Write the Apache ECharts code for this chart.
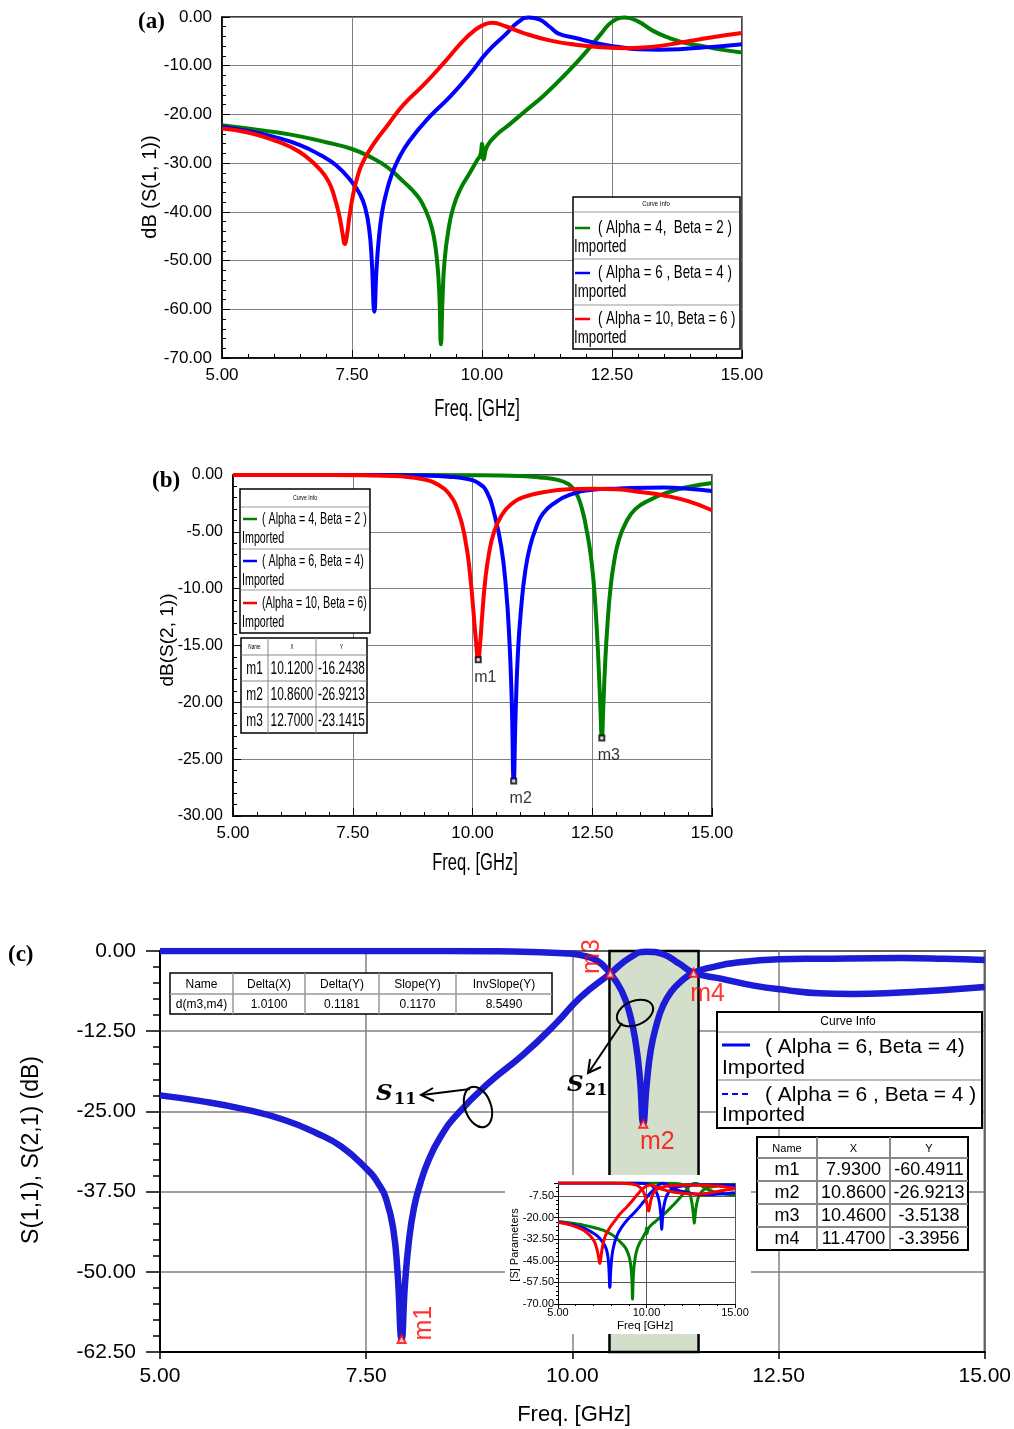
<!DOCTYPE html>
<html><head><meta charset="utf-8">
<script src="https://cdn.jsdelivr.net/npm/echarts@6/dist/echarts.min.js"></script>
<style>html,body{margin:0;padding:0;background:#fff}#c{width:1014px;height:1429px}</style>
</head><body><div id="c"></div>
<script>
// ---------- DATA ----------
// S11 (dB) curves
const s11GreenF = [5.0,5.5,6.0,6.5,7.0,7.5,7.9,8.2,8.5,8.7,8.85,9.0,9.08,9.14,9.18,9.21,9.24,9.28,9.35,9.45,9.6,9.75,9.9,9.97,10.0,10.03,10.1,10.3,10.5,10.8,11.2,11.6,12.0,12.3,12.5,12.75,13.0,13.3,13.6,13.9,14.2,14.6,15.0];
const s11GreenV = [-22.2,-22.9,-23.6,-24.5,-25.7,-27.1,-29.0,-31.0,-33.9,-36.0,-38.2,-42.0,-45.5,-50.5,-57,-67.2,-58,-50,-44,-39,-35,-32.3,-29.5,-28.3,-26.0,-29.2,-26.5,-24.0,-22.3,-19.6,-16.0,-11.8,-7.2,-3.3,-1.0,-0.1,-0.9,-2.9,-4.3,-5.3,-5.9,-6.7,-7.3];
const s11BlueF = [5.0,5.5,6.0,6.5,6.9,7.2,7.5,7.65,7.75,7.83,7.88,7.93,7.97,8.02,8.08,8.15,8.25,8.4,8.6,9.0,9.4,9.8,10.1,10.46,10.7,10.9,11.1,11.3,11.47,11.8,12.2,12.6,13.0,13.4,13.8,14.2,14.6,15.0];
const s11BlueV = [-22.5,-23.4,-24.6,-26.3,-28.4,-30.5,-33.9,-36.3,-39,-43.5,-50,-60.49,-52,-45,-40,-36.5,-32.8,-29,-25.5,-20.4,-16.2,-11.3,-7.2,-3.51,-1.0,-0.1,-0.5,-2.0,-3.40,-4.3,-5.4,-6.1,-6.6,-6.7,-6.6,-6.3,-6.0,-5.6];
const s11RedF = [5.0,5.5,6.0,6.3,6.6,6.9,7.05,7.15,7.25,7.32,7.36,7.4,7.45,7.52,7.6,7.7,7.9,8.2,8.5,8.9,9.3,9.6,9.85,10.05,10.2,10.45,10.8,11.3,11.8,12.3,12.8,13.3,13.8,14.4,15.0];
const s11RedV = [-22.9,-23.7,-25.3,-26.6,-28.5,-31.5,-33.8,-36.5,-40.5,-44.5,-46.6,-45,-41,-36.5,-33,-30,-26.3,-22,-17.9,-13.7,-9.0,-5.3,-2.8,-1.5,-1.2,-1.9,-3.3,-4.8,-5.7,-6.2,-6.4,-6.1,-5.3,-4.2,-3.3];
// S21 (dB) curves
const s21GreenF = [5.0,8.0,10.0,11.0,11.5,11.8,12.0,12.1,12.2,12.3,12.38,12.45,12.52,12.58,12.63,12.67,12.7,12.73,12.77,12.82,12.88,12.95,13.05,13.2,13.4,13.7,14.1,14.5,15.0];
const s21GreenV = [0,0,-0.02,-0.08,-0.25,-0.45,-0.8,-1.2,-1.9,-3.2,-4.8,-6.5,-9,-12.5,-16.5,-20.5,-23.14,-20.5,-16.5,-13,-10,-7.8,-5.8,-4.2,-3.0,-2.2,-1.5,-1.05,-0.7];
const s21BlueF = [5.0,8.0,9.0,9.5,9.9,10.1,10.3,10.46,10.6,10.7,10.77,10.82,10.86,10.9,10.95,11.02,11.1,11.2,11.33,11.47,11.7,12.0,12.5,13.0,14.0,14.5,15.0];
const s21BlueV = [0,0,-0.05,-0.15,-0.35,-0.65,-1.5,-3.51,-6.3,-10,-14.5,-20,-26.92,-21,-15.5,-11.5,-8.5,-6.3,-4.6,-3.40,-2.5,-1.8,-1.3,-1.2,-1.1,-1.2,-1.4];
const s21RedF = [5.0,7.0,8.0,8.5,9.0,9.3,9.5,9.7,9.85,9.95,10.02,10.07,10.12,10.16,10.2,10.26,10.34,10.45,10.6,10.8,11.1,11.5,12.0,12.5,13.0,13.5,14.0,14.5,15.0];
const s21RedV = [0,0,-0.05,-0.12,-0.4,-0.9,-1.6,-3.2,-5.7,-8.8,-12,-14.5,-16.24,-14.8,-12.5,-9.5,-7,-5,-3.6,-2.6,-1.9,-1.5,-1.25,-1.2,-1.25,-1.5,-1.8,-2.3,-3.1];
// markers
const markBNames = ['m1','m2','m3'];
const markBX = [10.12,10.86,12.70];
const markBY = [-16.2438,-26.9213,-23.1415];
const markCNames = ['m1','m2','m3','m4'];
const markCX = [7.93,10.86,10.46,11.47];
const markCY = [-60.4911,-26.9213,-3.5138,-3.3956];
const bandX = [10.45,11.53];
const deltaHeader = ['Name','Delta(X)','Delta(Y)','Slope(Y)','InvSlope(Y)'];
const deltaRow = ['d(m3,m4)','1.0100','0.1181','0.1170','8.5490'];
const legendA = ['( Alpha = 4,  Beta = 2 )','( Alpha = 6 , Beta = 4 )','( Alpha = 10, Beta = 6 )'];
const legendB = ['( Alpha = 4, Beta = 2 )','( Alpha = 6, Beta = 4)','(Alpha = 10, Beta = 6)'];
const legendC = ['( Alpha = 6, Beta = 4)','( Alpha = 6 , Beta = 4 )'];

// ---------- STYLE ----------
const ARIAL = "'Liberation Sans',Arial,sans-serif";
const SERIF = "'Liberation Serif','Times New Roman',serif";
const GREEN = '#008000', BLUE = '#0000ff', RED = '#ff0000', CBLUE = '#1c1cd6';
const zip = (f, v) => f.map((x, i) => [x, v[i]]);
const fmt2 = v => v.toFixed(2);

function axis(gi, min, max, interval, o) {
  return {
    gridIndex: gi, type: 'value', min, max, interval, z: o.z || 0,
    axisLine: {show: true, onZero: false, lineStyle: {color: '#000', width: o.lw || 1.5}},
    axisTick: {show: o.tick !== false, inside: !!o.inside, length: o.tl || 8, lineStyle: {color: '#000', width: o.tw || 1}},
    minorTick: {show: !!o.minor, splitNumber: 5, length: o.ml || 4, lineStyle: {color: '#000', width: o.tw || 1}},
    splitLine: {show: true, lineStyle: {color: o.sc || '#808080', width: o.sw || 1}},
    axisLabel: {formatter: o.fmt || fmt2, fontFamily: ARIAL, fontSize: o.fs, color: '#000', margin: o.margin}
  };
}
function line(xi, data, color, w, z) {
  return {type: 'line', xAxisIndex: xi, yAxisIndex: xi, data, showSymbol: false, smooth: 0.5,
    lineStyle: {color, width: w}, z: z || 2, silent: true, animation: false};
}
function txt(x, y, text, st, extra) {
  return Object.assign({type: 'text', x, y, z: 30, silent: true,
    style: Object.assign({text, fill: '#000', fontFamily: ARIAL, textAlign: 'left', textVerticalAlign: 'middle'}, st)}, extra || {});
}
function ln(x1, y1, x2, y2, color, w, z, dash) {
  return {type: 'line', z: z || 30, silent: true, shape: {x1, y1, x2, y2}, style: {stroke: color, lineWidth: w, lineDash: dash}};
}
function box(x, y, w, h, stroke, lw, z) {
  return {type: 'rect', z: z || 29, silent: true, shape: {x, y, width: w, height: h}, style: {fill: '#fff', stroke, lineWidth: lw}};
}
function table(x0, y0, colW, rowH, cells, fonts, outer, inner, olw, ilw, sx) {
  const els = [];
  const W = colW.reduce((a, b) => a + b, 0), H = rowH.reduce((a, b) => a + b, 0);
  els.push(box(x0, y0, W, H, outer, olw));
  let cx = x0;
  for (let i = 0; i < colW.length - 1; i++) { cx += colW[i]; els.push(ln(cx, y0, cx, y0 + H, inner, ilw)); }
  let cy = y0;
  for (let j = 0; j < rowH.length - 1; j++) { cy += rowH[j]; els.push(ln(x0, cy, x0 + W, cy, inner, ilw)); }
  cy = y0;
  for (let j = 0; j < rowH.length; j++) {
    cx = x0;
    for (let i = 0; i < colW.length; i++) {
      els.push(txt(cx + colW[i] / 2, cy + rowH[j] / 2 + 1, cells[j][i], Object.assign({textAlign: 'center'}, fonts[j === 0 ? 0 : 1]), {z: 31, scaleX: sx || 1}));
      cx += colW[i];
    }
    cy += rowH[j];
  }
  return els;
}

// ---------- GRAPHICS (legends, tables, labels) ----------
const G = [];
// panel titles
G.push(txt(138, 22, '(a)', {fontFamily: SERIF, fontWeight: 'bold', fontSize: 23}));
G.push(txt(152, 481, '(b)', {fontFamily: SERIF, fontWeight: 'bold', fontSize: 23}));
G.push(txt(8, 955, '(c)', {fontFamily: SERIF, fontWeight: 'bold', fontSize: 23}));
// axis titles
G.push(txt(150, 187, 'dB (S(1, 1))', {fontSize: 20, textAlign: 'center'}, {rotation: Math.PI / 2}));
G.push(txt(168, 640, 'dB(S(2, 1))', {fontSize: 19, textAlign: 'center'}, {rotation: Math.PI / 2}));
G.push(txt(32, 1150, 'S(1,1), S(2,1) (dB)', {fontSize: 23, textAlign: 'center'}, {rotation: Math.PI / 2}));
G.push(txt(477, 410, 'Freq. [GHz]', {fontSize: 23, textAlign: 'center'}, {scaleX: 0.72}));
G.push(txt(475, 864, 'Freq. [GHz]', {fontSize: 23, textAlign: 'center'}, {scaleX: 0.72}));
G.push(txt(574, 1415, 'Freq. [GHz]', {fontSize: 22, textAlign: 'center'}));

// legend (a)
G.push(box(573, 197, 167, 152, '#000', 1.5));
G.push(txt(656, 204, 'Curve Info', {fontSize: 8, textAlign: 'center'}, {scaleX: 0.75}));
[212, 259, 305].forEach(y => G.push(ln(574, y, 739, y, '#bbb', 1.5)));
[[GREEN, 228], [BLUE, 273], [RED, 319]].forEach((e, i) => {
  G.push(ln(575, e[1], 590, e[1], e[0], 2.5));
  G.push(txt(598, e[1], legendA[i], {fontSize: 19}, {scaleX: 0.7}));
  G.push(txt(574, e[1] + 19, 'Imported', {fontSize: 19}, {scaleX: 0.7}));
});
// legend (b)
G.push(box(240, 489, 130, 144, '#000', 1.5));
G.push(txt(305, 498, 'Curve Info', {fontSize: 7, textAlign: 'center'}, {scaleX: 0.75}));
[507, 549, 590].forEach(y => G.push(ln(241, y, 369, y, '#bbb', 1.5)));
[[GREEN, 519], [BLUE, 561], [RED, 603]].forEach((e, i) => {
  G.push(ln(243, e[1], 257, e[1], e[0], 2.5));
  G.push(txt(262, e[1], legendB[i], {fontSize: 17}, {scaleX: 0.63}));
  G.push(txt(242, e[1] + 19, 'Imported', {fontSize: 17}, {scaleX: 0.63}));
});
// table (b)
G.push(...table(241, 638, [27, 48, 51], [17, 26, 26, 26],
  [['Name', 'X', 'Y']].concat(markBNames.map((n, i) => [n, markBX[i].toFixed(4), markBY[i].toFixed(4)])),
  [{fontSize: 7}, {fontSize: 18}], '#000', '#888', 1.5, 1, 0.66));

// delta table (c)
G.push(...table(170, 973, [63, 72, 74, 77, 96], [21, 20], [deltaHeader, deltaRow],
  [{fontSize: 12}, {fontSize: 12}], '#000', '#999', 1.5, 1.5));
// legend (c)
G.push(box(717, 1012, 265, 116, '#000', 2));
G.push(txt(848, 1022, 'Curve Info', {fontSize: 12, textAlign: 'center'}));
[1032, 1080].forEach(y => G.push(ln(718, y, 981, y, '#bbb', 2)));
G.push(ln(722, 1045, 750, 1045, BLUE, 3));
G.push(ln(722, 1094, 750, 1094, BLUE, 2, 30, [6, 4]));
G.push(txt(765, 1047, legendC[0], {fontSize: 21}));
G.push(txt(722, 1068, 'Imported', {fontSize: 21}));
G.push(txt(765, 1095, legendC[1], {fontSize: 21}));
G.push(txt(722, 1115, 'Imported', {fontSize: 21}));
// marker table (c)
G.push(...table(757, 1137, [60, 73, 78], [21, 23, 23, 23, 23],
  [['Name', 'X', 'Y']].concat(markCNames.map((n, i) => [n, markCX[i].toFixed(4), markCY[i].toFixed(4)])),
  [{fontSize: 11}, {fontSize: 18}], '#000', '#888', 2, 2));

// annotations (c)
const SM = "'DejaVu Serif',serif";
G.push({type: 'ellipse', z: 30, silent: true, x: 478, y: 1107, rotation: 0.35, shape: {cx: 0, cy: 0, rx: 13, ry: 21}, style: {fill: 'none', stroke: '#000', lineWidth: 2}});
G.push({type: 'polyline', z: 30, silent: true, shape: {points: [[470, 1089], [422, 1095]]}, style: {stroke: '#000', lineWidth: 2, fill: 'none'}});
G.push({type: 'polyline', z: 30, silent: true, shape: {points: [[433, 1088], [421, 1095], [434, 1101]]}, style: {stroke: '#000', lineWidth: 2, fill: 'none'}});
G.push(txt(376, 1094, 'S', {fontFamily: SM, fontStyle: 'italic', fontWeight: 'bold', fontSize: 23}));
G.push(txt(394, 1100, '11', {fontFamily: SM, fontWeight: 'bold', fontSize: 16}));
G.push({type: 'ellipse', z: 30, silent: true, x: 635, y: 1013, rotation: 0.4, shape: {cx: 0, cy: 0, rx: 19, ry: 12}, style: {fill: 'none', stroke: '#000', lineWidth: 2}});
G.push({type: 'polyline', z: 30, silent: true, shape: {points: [[622, 1023], [589, 1072]]}, style: {stroke: '#000', lineWidth: 2, fill: 'none'}});
G.push({type: 'polyline', z: 30, silent: true, shape: {points: [[590, 1059], [588, 1073], [601, 1067]]}, style: {stroke: '#000', lineWidth: 2, fill: 'none'}});
G.push(txt(567, 1085, 'S', {fontFamily: SM, fontStyle: 'italic', fontWeight: 'bold', fontSize: 23}));
G.push(txt(585, 1091, '21', {fontFamily: SM, fontWeight: 'bold', fontSize: 16}));

// inset background + labels
G.push({type: 'rect', z: 10, silent: true, shape: {x: 505, y: 1175, width: 246, height: 159}, style: {fill: '#fff'}});
G.push(txt(515, 1245, '[S] Parameters', {fontSize: 11, textAlign: 'center'}, {rotation: Math.PI / 2, z: 16}));
G.push(txt(645, 1326, 'Freq [GHz]', {fontSize: 11.5, textAlign: 'center'}, {z: 16}));

// ---------- CHART ----------
const chart = echarts.init(document.getElementById('c'), null, {renderer: 'canvas'});
const grids = [
  {left: 222, top: 17, width: 520, height: 341, show: true, borderColor: '#000', borderWidth: 1.5},
  {left: 233, top: 475, width: 479, height: 341, show: true, borderColor: '#000', borderWidth: 1.5},
  {left: 160, top: 951, width: 829, height: 401, show: true, borderColor: '#000', borderWidth: 2},
  {left: 558, top: 1183, width: 177, height: 121, show: false, z: 15}
];
const xAxes = [
  axis(0, 5, 15, 2.5, {inside: true, minor: true, fs: 17, margin: 9}),
  axis(1, 5, 15, 2.5, {inside: true, minor: true, fs: 17, margin: 9}),
  axis(2, 5, 15, 2.5, {tl: 7, fs: 21, margin: 14, lw: 2, sw: 1.5, tw: 1.5}),
  axis(3, 5, 15, 5, {minor: true, tl: 4, ml: 2, fs: 11, margin: 3, z: 15, sc: '#555', lw: 1})
];
const yAxes = [
  axis(0, -70, 0, 10, {inside: true, minor: true, fs: 17, margin: 10}),
  axis(1, -30, 0, 5, {inside: true, minor: true, fs: 16, margin: 10}),
  axis(2, -62.5, 0, 12.5, {tl: 14, minor: true, ml: 7, fs: 21, margin: 24, lw: 2, sw: 1.5, tw: 1.5}),
  axis(3, -70, 0, 12.5, {minor: true, tl: 4, ml: 2, fs: 11, margin: 4, z: 15, sc: '#555', lw: 1,
    fmt: v => (Math.abs(v) < 1e-9 ? '' : v.toFixed(2))})
];
const series = [
  // (a) S11
  line(0, zip(s11GreenF, s11GreenV), GREEN, 4),
  line(0, zip(s11BlueF, s11BlueV), BLUE, 4),
  line(0, zip(s11RedF, s11RedV), RED, 4),
  // (b) S21
  line(1, zip(s21GreenF, s21GreenV), GREEN, 4),
  line(1, zip(s21BlueF, s21BlueV), BLUE, 4),
  line(1, zip(s21RedF, s21RedV), RED, 4),
  {type: 'scatter', xAxisIndex: 1, yAxisIndex: 1, z: 5, silent: true, animation: false,
    data: markBNames.map((n, i) => ({name: n, value: [markBX[i], markBY[i]]})),
    symbol: 'emptyRect', symbolSize: 5, itemStyle: {color: '#000'},
    label: {show: true, formatter: p => p.name, position: 'bottom', distance: 6, offset: [7, 0], fontFamily: ARIAL, fontSize: 16, color: '#000'}},
  // (c) band
  Object.assign(line(2, [[5, 0]], 'rgba(0,0,0,0)', 0, 1), {
    markArea: {silent: true, animation: false, itemStyle: {color: '#d3decb', borderColor: '#000', borderWidth: 2.5},
      data: [[{xAxis: bandX[0], yAxis: 0}, {xAxis: bandX[1], yAxis: -62.5}]]}}),
  line(2, zip(s11BlueF, s11BlueV), CBLUE, 6.5),
  line(2, zip(s21BlueF, s21BlueV), CBLUE, 6.5),
  {type: 'scatter', xAxisIndex: 2, yAxisIndex: 2, z: 5, silent: true, animation: false,
    data: markCNames.map((n, i) => ({name: n, value: [markCX[i], markCY[i]],
      label: [{offset: [16, 22], rotate: 90}, {offset: [14, 18]}, {offset: [17, -18], rotate: 90}, {offset: [14, 21]}][i]})),
    symbol: 'emptyTriangle', symbolSize: 8, itemStyle: {color: '#ff0000', borderWidth: 1.2},
    label: {show: true, formatter: p => p.name, position: 'inside', fontFamily: ARIAL, fontSize: 25, color: '#ff0000'}},
  // inset
  line(3, zip(s11GreenF, s11GreenV), GREEN, 3, 20),
  line(3, zip(s21GreenF, s21GreenV), GREEN, 3, 20),
  line(3, zip(s11BlueF, s11BlueV), BLUE, 3, 20),
  line(3, zip(s21BlueF, s21BlueV), BLUE, 3, 20),
  line(3, zip(s11RedF, s11RedV), RED, 3, 20),
  line(3, zip(s21RedF, s21RedV), RED, 3, 20)
];
chart.setOption({animation: false, backgroundColor: '#fff', grid: grids, xAxis: xAxes, yAxis: yAxes, series, graphic: {elements: G}});
</script></body></html>
